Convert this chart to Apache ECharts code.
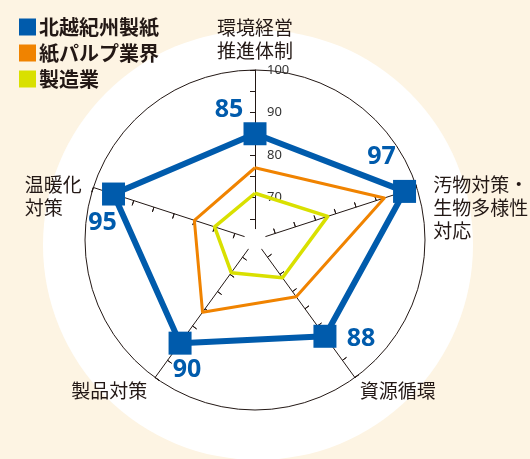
<!DOCTYPE html>
<html>
<head>
<meta charset="utf-8">
<script src="https://cdn.jsdelivr.net/npm/echarts@6/dist/echarts.min.js"></script>
<style>
html,body{margin:0;padding:0;background:#fdf4e3;}
#c{width:530px;height:459px;}
</style>
</head>
<body>
<div id="c"></div>
<script>
// ---- data ----
const indicatorNames = ['環境経営\n推進体制', '温暖化\n対策', '製品対策', '資源循環', '汚物対策・\n生物多様性\n対応'];
const seriesNames = ['北越紀州製紙', '紙パルプ業界', '製造業'];
const hokuetsu = [85, 95, 90, 88, 97];
const pulpIndustry = [77, 75, 81, 76.5, 92];
const manufacturing = [71, 70, 69.5, 71, 78];
const axisMin = 60;
const axisMax = 100;
const tickLabels = ['70', '80', '90', '100'];

// ---- styles ----
const BLUE = '#005bac', ORANGE = '#f08300', YELLOW = '#d9e000', INK = '#231815';
const namePadTop = [0, 1, 0, 0, 2];
const nameTags = ['n', 'ul', 'll', 'lr', 'ur'];
const labelOffsets = [[-26, -24], [-11, 29], [7, 27], [36, 3], [-23, -35]];
const CENTER = [255, 240], RADIUS = 170;
const FONT = 'Noto Sans CJK JP';

const chart = echarts.init(document.getElementById('c'));

function nameFmt(name) {
  const i = indicatorNames.indexOf(name);
  const tag = nameTags[i];
  const pads = Array(namePadTop[i]).fill('{s| }');
  return pads.concat(name.split('\n').map(t => '{' + tag + '|' + t + '}')).join('\n');
}

const indicators = indicatorNames.map((n, i) => ({
  name: n, min: axisMin, max: axisMax,
  axisLabel: { show: i === 0 }
}));
const indicatorsPlain = indicatorNames.map(n => ({ name: n, min: axisMin, max: axisMax }));

const baseRadar = {
  center: CENTER, radius: RADIUS, startAngle: 90, shape: 'circle', splitNumber: 8,
  splitArea: { show: false }
};
const nameBase = { fontSize: 19, lineHeight: 23, color: INK, fontFamily: FONT };

chart.setOption({
  backgroundColor: '#fdf4e3',
  animation: false,
  legend: {
    orient: 'vertical', left: 14, top: 12,
    itemWidth: 17, itemHeight: 17, itemGap: 6,
    icon: 'rect',
    data: seriesNames,
    textStyle: { fontFamily: FONT, fontSize: 20, fontWeight: 'bold', color: INK, padding: [0, 0, 0, -2] }
  },
  graphic: {
    elements: [
      { type: 'circle', z: -1, shape: { cx: 258, cy: 245, r: 215 }, style: { fill: '#ffffff' }, silent: true },
      { type: 'circle', z: 1, shape: { cx: CENTER[0], cy: CENTER[1], r: 11 }, style: { fill: '#ffffff' }, silent: true }
    ]
  },
  radar: [
    Object.assign({}, baseRadar, {
      indicator: indicators,
      axisName: {
        formatter: nameFmt,
        color: INK, fontFamily: FONT, fontSize: 19,
        rich: {
          n: nameBase,
          ul: Object.assign({}, nameBase, { width: 57, align: 'left', padding: [0, 4, 0, 0] }),
          ur: Object.assign({}, nameBase, { padding: [0, 0, 0, 9] }),
          ll: Object.assign({}, nameBase, { padding: [14, 3, 0, 0] }),
          lr: Object.assign({}, nameBase, { padding: [14, 0, 0, 0] }),
          s: { fontSize: 19, lineHeight: 23 }
        }
      },
      nameGap: 8,
      axisLine: { lineStyle: { color: INK, width: 1 } },
      axisTick: { show: true, inside: true, length: 5, lineStyle: { color: INK, width: 1 } },
      axisLabel: {
        show: false, margin: -12, align: 'left', color: '#333', fontSize: 13, fontFamily: 'Noto Sans',
        formatter: v => tickLabels.indexOf(String(v)) >= 0 ? String(v) : ''
      },
      splitLine: { show: true, lineStyle: { width: 1, color: ['rgba(0,0,0,0)', 'rgba(0,0,0,0)', 'rgba(0,0,0,0)', 'rgba(0,0,0,0)', 'rgba(0,0,0,0)', 'rgba(0,0,0,0)', 'rgba(0,0,0,0)', 'rgba(0,0,0,0)', INK] } }
    }),
    Object.assign({}, baseRadar, {
      indicator: indicatorsPlain,
      axisName: { show: false },
      axisLine: { show: false },
      axisTick: { show: true, inside: false, length: 5, lineStyle: { color: INK, width: 1 } },
      axisLabel: { show: false },
      splitLine: { show: false }
    })
  ],
  series: [{
    type: 'radar', radarIndex: 0, z: 2,
    data: [
      { name: seriesNames[2], value: manufacturing, symbol: 'none',
        itemStyle: { color: YELLOW }, lineStyle: { color: YELLOW, width: 3.5 } },
      { name: seriesNames[1], value: pulpIndustry, symbol: 'none',
        itemStyle: { color: ORANGE }, lineStyle: { color: ORANGE, width: 3 } },
      { name: seriesNames[0], value: hokuetsu, symbol: 'rect', symbolSize: 23,
        itemStyle: { color: BLUE }, lineStyle: { color: BLUE, width: 6 },
        label: { show: true, color: BLUE, fontSize: 25, fontWeight: 'bold', fontFamily: 'Noto Sans' } }
    ],
    labelLayout: function (p) {
      const i = hokuetsu.indexOf(Number(p.text));
      if (i < 0) return {};
      const cx = p.rect.x + p.rect.width / 2, cy = p.rect.y + p.rect.height / 2;
      return { x: cx + labelOffsets[i][0], y: cy + labelOffsets[i][1], align: 'center', verticalAlign: 'middle' };
    }
  }]
});
</script>
</body>
</html>
